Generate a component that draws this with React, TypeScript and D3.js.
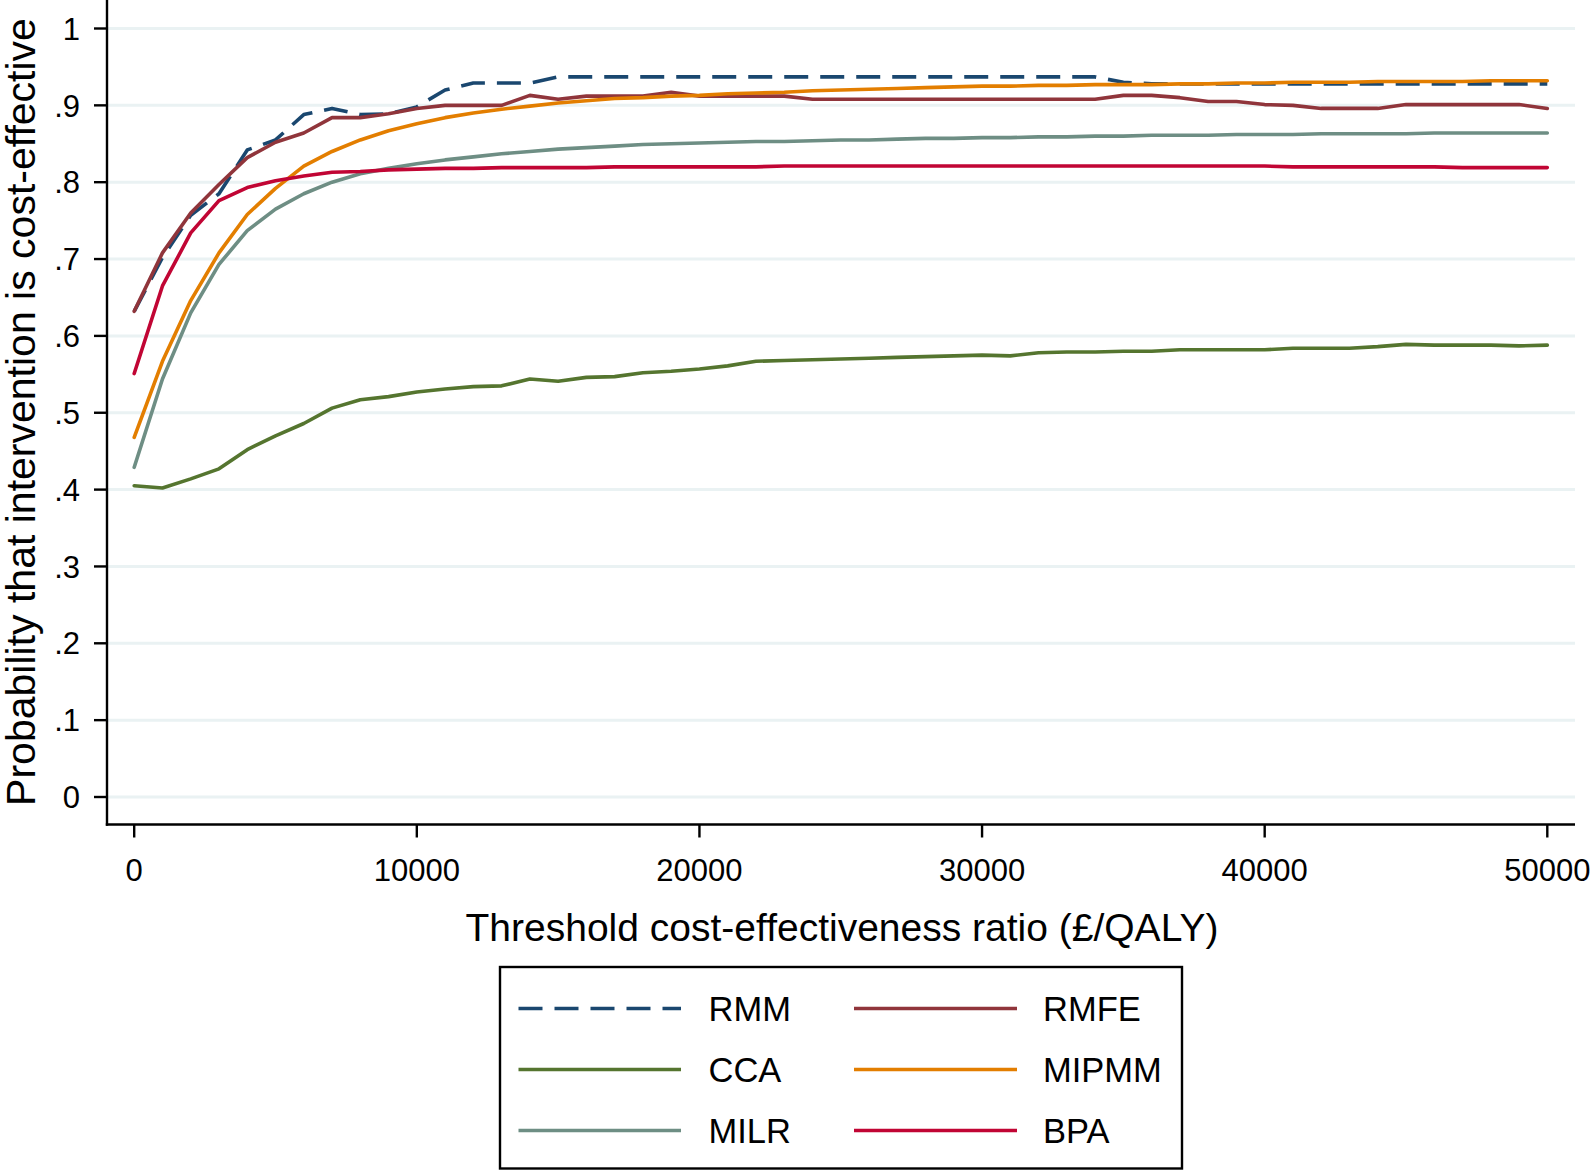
import React from "react";
import * as d3 from "d3";

const thresholds = [
  0, 1000, 2000, 3000, 4000, 5000, 6000, 7000, 8000, 9000,
  10000, 11000, 12000, 13000, 14000, 15000, 16000, 17000, 18000, 19000,
  20000, 21000, 22000, 23000, 24000, 25000, 26000, 27000, 28000, 29000,
  30000, 31000, 32000, 33000, 34000, 35000, 36000, 37000, 38000, 39000,
  40000, 41000, 42000, 43000, 44000, 45000, 46000, 47000, 48000, 49000, 50000,
];

const rmm = [
  0.632, 0.702, 0.757, 0.785, 0.842, 0.855, 0.888, 0.896, 0.888, 0.889,
  0.898, 0.92, 0.929, 0.929, 0.929, 0.937, 0.937, 0.937, 0.937, 0.937,
  0.937, 0.937, 0.937, 0.937, 0.937, 0.937, 0.937, 0.937, 0.937, 0.937,
  0.937, 0.937, 0.937, 0.937, 0.937, 0.93, 0.928, 0.928, 0.928, 0.928,
  0.928, 0.928, 0.928, 0.928, 0.928, 0.928, 0.928, 0.928, 0.928, 0.928, 0.928,
];

const rmfe = [
  0.632, 0.708, 0.76, 0.797, 0.832, 0.852, 0.864, 0.884, 0.884, 0.889,
  0.896, 0.9, 0.9, 0.9, 0.913, 0.908, 0.912, 0.912, 0.912, 0.917,
  0.912, 0.912, 0.912, 0.912, 0.908, 0.908, 0.908, 0.908, 0.908, 0.908,
  0.908, 0.908, 0.908, 0.908, 0.908, 0.913, 0.913, 0.91, 0.905, 0.905,
  0.901, 0.9, 0.896, 0.896, 0.896, 0.901, 0.901, 0.901, 0.901, 0.901, 0.896,
];

const cca = [
  0.405, 0.402, 0.414, 0.427, 0.452, 0.47, 0.486, 0.506, 0.517, 0.521,
  0.527, 0.531, 0.534, 0.535, 0.544, 0.541, 0.546, 0.547, 0.552, 0.554,
  0.557, 0.561, 0.567, 0.568, 0.569, 0.57, 0.571, 0.572, 0.573, 0.574,
  0.575, 0.574, 0.578, 0.579, 0.579, 0.58, 0.58, 0.582, 0.582, 0.582,
  0.582, 0.584, 0.584, 0.584, 0.586, 0.589, 0.588, 0.588, 0.588, 0.587, 0.588,
];

const mipmm = [
  0.468, 0.567, 0.646, 0.708, 0.758, 0.792, 0.821, 0.84, 0.855, 0.867,
  0.876, 0.884, 0.89, 0.895, 0.899, 0.903, 0.906, 0.909, 0.91, 0.912,
  0.913, 0.915, 0.916, 0.917, 0.919, 0.92, 0.921, 0.922, 0.923, 0.924,
  0.925, 0.925, 0.926, 0.926, 0.927, 0.927, 0.927, 0.928, 0.928, 0.929,
  0.929, 0.93, 0.93, 0.93, 0.931, 0.931, 0.931, 0.931, 0.932, 0.932, 0.932,
];

const milr = [
  0.429, 0.544, 0.63, 0.693, 0.737, 0.765, 0.785, 0.8, 0.811, 0.818,
  0.824, 0.829, 0.833, 0.837, 0.84, 0.843, 0.845, 0.847, 0.849, 0.85,
  0.851, 0.852, 0.853, 0.853, 0.854, 0.855, 0.855, 0.856, 0.857, 0.857,
  0.858, 0.858, 0.859, 0.859, 0.86, 0.86, 0.861, 0.861, 0.861, 0.862,
  0.862, 0.862, 0.863, 0.863, 0.863, 0.863, 0.864, 0.864, 0.864, 0.864, 0.864,
];

const bpa = [
  0.551, 0.665, 0.734, 0.776, 0.793, 0.802, 0.808, 0.813, 0.814, 0.816,
  0.817, 0.818, 0.818, 0.819, 0.819, 0.819, 0.819, 0.82, 0.82, 0.82,
  0.82, 0.82, 0.82, 0.821, 0.821, 0.821, 0.821, 0.821, 0.821, 0.821,
  0.821, 0.821, 0.821, 0.821, 0.821, 0.821, 0.821, 0.821, 0.821, 0.821,
  0.821, 0.82, 0.82, 0.82, 0.82, 0.82, 0.82, 0.819, 0.819, 0.819, 0.819,
];

const seriesNames = ["RMM", "RMFE", "CCA", "MIPMM", "MILR", "BPA"];
const seriesValues = [rmm, rmfe, cca, mipmm, milr, bpa];
const seriesColors = ["#1a476f", "#90353b", "#55752f", "#e37e00", "#6e8e84", "#c10534"];
const seriesDashed = [true, false, false, false, false, false];

const yTicks = [0, 0.1, 0.2, 0.3, 0.4, 0.5, 0.6, 0.7, 0.8, 0.9, 1];
const yTickLabels = ["0", ".1", ".2", ".3", ".4", ".5", ".6", ".7", ".8", ".9", "1"];
const xTicks = [0, 10000, 20000, 30000, 40000, 50000];

const xTitle = "Threshold cost-effectiveness ratio (£/QALY)";
const yTitle = "Probability that intervention is cost-effective";

const FONT = "'Liberation Sans', Arial, Helvetica, sans-serif";

export default function App() {
  const W = 1594;
  const H = 1170;
  const plotLeft = 107;
  const plotRight = 1575;
  const plotTop = 0;
  const plotBottom = 824.5;

  const x = d3.scaleLinear().domain([0, 50000]).range([134.2, 1547.3]);
  const y = d3.scaleLinear().domain([0, 1]).range([797, 28.5]);

  const line = d3
    .line<number>()
    .x((_, i) => x(thresholds[i]))
    .y((d) => y(d));

  // legend layout
  const lgLeft = 500;
  const lgRight = 1182;
  const lgTop = 967;
  const lgBottom = 1168.5;
  const rowY = [1008.5, 1069.5, 1130.5];
  const colLine = [
    [518.5, 681],
    [854, 1017],
  ];
  const colText = [708.5, 1043];

  return (
    <svg
      width={W}
      height={H}
      style={{ position: "absolute", left: 0, top: 0, background: "#fff" }}
      fontFamily={FONT}
    >
      <rect x={0} y={0} width={W} height={H} fill="#ffffff" />
      {/* gridlines */}
      {yTicks.map((t) => (
        <line
          key={"g" + t}
          x1={plotLeft + 1}
          x2={plotRight}
          y1={y(t)}
          y2={y(t)}
          stroke="#eaf2f3"
          strokeWidth={3}
        />
      ))}
      {/* series */}
      {seriesValues.map((vals, i) => (
        <path
          key={seriesNames[i]}
          d={line(vals) || ""}
          fill="none"
          stroke={seriesColors[i]}
          strokeWidth={3.6}
          strokeLinejoin="round"
          strokeLinecap={seriesDashed[i] ? "butt" : "round"}
          strokeDasharray={seriesDashed[i] ? "24 12" : undefined}
        />
      ))}
      {/* axes */}
      <line x1={plotLeft} x2={plotLeft} y1={plotTop} y2={plotBottom + 1.2} stroke="#000" strokeWidth={2.4} />
      <line x1={plotLeft - 1.2} x2={plotRight} y1={plotBottom} y2={plotBottom} stroke="#000" strokeWidth={2.4} />
      {yTicks.map((t, i) => (
        <g key={"yt" + t}>
          <line x1={plotLeft - 13} x2={plotLeft} y1={y(t)} y2={y(t)} stroke="#000" strokeWidth={2.4} />
          <text
            x={plotLeft - 27}
            y={y(t)}
            dy="0.36em"
            textAnchor="end"
            fontSize={31}
            fill="#000"
          >
            {yTickLabels[i]}
          </text>
        </g>
      ))}
      {xTicks.map((t) => (
        <g key={"xt" + t}>
          <line x1={x(t)} x2={x(t)} y1={plotBottom} y2={plotBottom + 13} stroke="#000" strokeWidth={2.4} />
          <text x={x(t)} y={plotBottom + 56} textAnchor="middle" fontSize={31} fill="#000">
            {d3.format("d")(t)}
          </text>
        </g>
      ))}
      {/* axis titles */}
      <text x={842} y={941} textAnchor="middle" fontSize={39} fill="#000">
        {xTitle}
      </text>
      <text
        transform={`translate(35, 412) rotate(-90)`}
        textAnchor="middle"
        fontSize={41}
        fill="#000"
      >
        {yTitle}
      </text>
      {/* legend */}
      <rect
        x={lgLeft}
        y={lgTop}
        width={lgRight - lgLeft}
        height={lgBottom - lgTop}
        fill="#fff"
        stroke="#000"
        strokeWidth={2.4}
      />
      {seriesNames.map((name, i) => {
        const col = i % 2;
        const row = Math.floor(i / 2);
        return (
          <g key={"lg" + name}>
            <line
              x1={colLine[col][0]}
              x2={colLine[col][1]}
              y1={rowY[row]}
              y2={rowY[row]}
              stroke={seriesColors[i]}
              strokeWidth={3.6}
              strokeDasharray={seriesDashed[i] ? "24 12" : undefined}
            />
            <text x={colText[col]} y={rowY[row]} dy="0.36em" fontSize={34.5} fill="#000">
              {name}
            </text>
          </g>
        );
      })}
    </svg>
  );
}
